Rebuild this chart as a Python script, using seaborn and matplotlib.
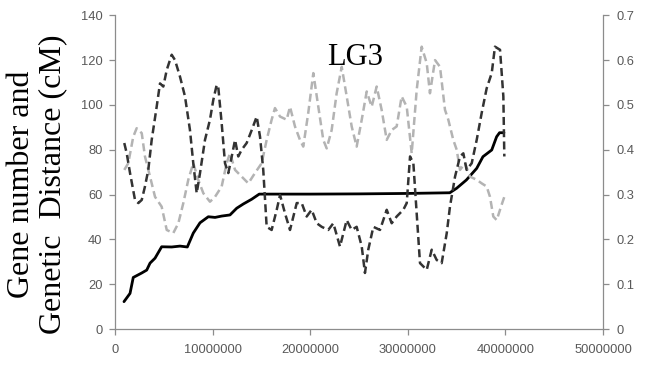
import matplotlib
matplotlib.use("Agg")
import matplotlib.pyplot as plt
import seaborn as sns
import pandas as pd

# ---------------- data ----------------
# cumulative gene number / genetic distance (left axis)
solid_pos_mb = [0.92, 1.54, 1.87, 2.74, 3.25, 3.59, 4.10, 4.78, 5.81, 6.66, 7.41,
                8.02, 8.71, 9.56, 10.25, 10.93, 11.78, 12.47, 13.15, 14.00, 14.78,
                20.0, 25.0, 30.0, 34.3, 35.0, 36.0, 37.06, 37.7, 38.6, 39.1, 39.4, 39.85]
solid_val = [12.2, 15.9, 23.0, 25.0, 26.3, 29.4, 31.6, 36.7, 36.6, 37.0, 36.6,
             42.8, 47.4, 50.1, 49.8, 50.4, 50.9, 53.9, 55.8, 57.9, 60.2,
             60.2, 60.3, 60.5, 60.8, 62.8, 66.5, 71.7, 76.9, 79.9, 85.8, 87.6, 87.6]

# dark dashed series (right axis)
dark_pos_mb = [0.95, 1.20, 1.54, 2.05, 2.39, 2.74, 3.07, 3.41, 3.76, 4.27, 4.61, 4.95,
               5.30, 5.81, 6.15, 6.66, 7.17, 7.68, 8.02, 8.37, 8.71, 9.22, 9.73, 10.07,
               10.42, 10.58, 10.93, 11.27, 11.61, 11.96, 12.30, 12.63, 12.98, 13.49,
               14.01, 14.52, 14.86, 15.19, 15.54, 16.05, 16.57, 16.91, 17.42, 17.93,
               18.62, 19.13, 19.64, 20.15, 20.67, 21.18, 21.85, 22.37, 23.05, 23.74,
               24.25, 24.76, 25.28, 25.61, 25.95, 26.47, 27.15, 27.84, 28.35, 28.86,
               29.54, 29.89, 30.23, 30.57, 30.91, 31.25, 31.94, 32.45, 32.96, 33.47,
               33.99, 34.32, 34.84, 35.35, 35.69, 36.03, 36.55, 37.06, 37.57, 38.08,
               38.60, 38.93, 39.45, 39.79, 39.89]
dark_val = [0.415, 0.392, 0.348, 0.288, 0.281, 0.288, 0.318, 0.355, 0.422, 0.496, 0.548, 0.541,
            0.578, 0.612, 0.600, 0.563, 0.519, 0.444, 0.370, 0.303, 0.348, 0.422, 0.467, 0.511,
            0.545, 0.540, 0.459, 0.370, 0.348, 0.385, 0.422, 0.385, 0.400, 0.415,
            0.444, 0.474, 0.429, 0.355, 0.228, 0.221, 0.266, 0.299, 0.258, 0.221,
            0.281, 0.281, 0.251, 0.266, 0.236, 0.228, 0.221, 0.236, 0.184, 0.243,
            0.221, 0.228, 0.184, 0.125, 0.177, 0.228, 0.221, 0.266, 0.236, 0.251,
            0.266, 0.281, 0.385, 0.370, 0.258, 0.147, 0.132, 0.177, 0.154, 0.147,
            0.214, 0.273, 0.340, 0.385, 0.392, 0.355, 0.370, 0.422, 0.482, 0.537,
            0.571, 0.630, 0.623, 0.519, 0.385]

# light gray dashed series (right axis)
light_pos_mb = [0.95, 1.36, 1.87, 2.22, 2.74, 3.07, 3.59, 4.10, 4.78, 5.30, 5.97, 6.49,
                7.00, 7.51, 8.02, 8.53, 9.05, 9.73, 10.25, 10.93, 11.44, 11.78, 12.30,
                12.98, 13.66, 14.34, 15.03, 15.54, 16.05, 16.39, 16.91, 17.59, 17.93,
                18.44, 18.95, 19.29, 19.80, 20.32, 20.83, 21.34, 21.69, 22.20, 22.71,
                23.23, 23.74, 24.25, 24.76, 25.28, 25.79, 26.30, 26.81, 27.32, 27.84,
                28.35, 28.86, 29.37, 29.89, 30.40, 30.91, 31.42, 31.94, 32.27, 32.79,
                33.30, 33.81, 34.15, 34.66, 35.01, 35.35, 35.86, 36.37, 37.06, 37.57,
                38.08, 38.42, 38.76, 39.11, 39.55, 39.89]
light_val = [0.355, 0.370, 0.429, 0.448, 0.437, 0.385, 0.340, 0.295, 0.273, 0.221, 0.214, 0.236,
             0.281, 0.333, 0.370, 0.333, 0.303, 0.284, 0.295, 0.318, 0.370, 0.392, 0.355,
             0.340, 0.325, 0.348, 0.370, 0.422, 0.467, 0.493, 0.474, 0.467, 0.496,
             0.452, 0.422, 0.407, 0.482, 0.571, 0.496, 0.422, 0.403, 0.444, 0.526,
             0.585, 0.519, 0.452, 0.407, 0.467, 0.530, 0.496, 0.541, 0.489, 0.422,
             0.444, 0.452, 0.519, 0.496, 0.392, 0.533, 0.630, 0.593, 0.526, 0.600,
             0.585, 0.489, 0.467, 0.422, 0.400, 0.355, 0.370, 0.340, 0.333, 0.325,
             0.318, 0.295, 0.251, 0.243, 0.273, 0.295]

x_ticks = [0, 10000000, 20000000, 30000000, 40000000, 50000000]
x_tick_labels = ["0", "10000000", "20000000", "30000000", "40000000", "50000000"]
left_ticks = [0, 20, 40, 60, 80, 100, 120, 140]
left_tick_labels = ["0", "20", "40", "60", "80", "100", "120", "140"]
right_ticks = [0, 0.1, 0.2, 0.3, 0.4, 0.5, 0.6, 0.7]
right_tick_labels = ["0", "0.1", "0.2", "0.3", "0.4", "0.5", "0.6", "0.7"]

title_text = "LG3"
ylabel_text = "Gene number and\nGenetic  Distance (cM)"

# ---------------- frames ----------------
df_solid = pd.DataFrame({"pos": [p * 1e6 for p in solid_pos_mb], "val": solid_val})
df_dark = pd.DataFrame({"pos": [p * 1e6 for p in dark_pos_mb], "val": dark_val})
df_light = pd.DataFrame({"pos": [p * 1e6 for p in light_pos_mb], "val": light_val})

# ---------------- plotting ----------------
sns.set_style("white")
plt.rcParams["font.family"] = ["Liberation Sans", "DejaVu Sans"]

W, H = 646, 372
fig = plt.figure(figsize=(W / 100, H / 100), dpi=100)
ax = fig.add_axes([115 / W, 1 - 329 / H, (603 - 115) / W, (329 - 15.3) / H])
ax2 = ax.twinx()

sns.lineplot(data=df_solid, x="pos", y="val", ax=ax, color="black", linewidth=2.0,
             sort=False, errorbar=None)
sns.lineplot(data=df_light, x="pos", y="val", ax=ax2, color="#b3b3b3", linewidth=1.8,
             sort=False, errorbar=None)
sns.lineplot(data=df_dark, x="pos", y="val", ax=ax2, color="#333333", linewidth=1.8,
             sort=False, errorbar=None)
for ln in ax2.lines:
    ln.set_dashes((3.2, 1.7))

ax.set_xlim(0, 50000000)
ax.set_ylim(0, 140)
ax2.set_ylim(0, 0.7)

ax.set_xticks(x_ticks)
ax.set_xticklabels(x_tick_labels)
ax.set_yticks(left_ticks)
ax.set_yticklabels(left_tick_labels)
ax2.set_yticks(right_ticks)
ax2.set_yticklabels(right_tick_labels)

ax.set_xlabel("")
ax.set_ylabel("")
ax2.set_ylabel("")

spine_col = "#8c8c8c"
for a in (ax, ax2):
    a.spines["top"].set_visible(False)
    for side in ("left", "right", "bottom"):
        a.spines[side].set_color(spine_col)
        a.spines[side].set_linewidth(0.9)
    a.set_facecolor("none")
ax.spines["right"].set_visible(False)
ax2.spines["left"].set_visible(False)
ax2.spines["bottom"].set_visible(False)

tick_col = "#595959"
ax.tick_params(axis="both", which="major", direction="out", length=4, width=0.9,
               color=spine_col, labelcolor=tick_col, labelsize=9.3, pad=5)
ax.tick_params(axis="y", left=True, right=False)
ax.tick_params(axis="x", bottom=True, pad=7)
ax2.tick_params(axis="y", direction="out", length=4, width=0.9, color=spine_col,
                labelcolor=tick_col, labelsize=9.3, pad=6, right=True)
ax.grid(False)
ax2.grid(False)

fig.text(355 / W, 1 - 65 / H, title_text, family=["Liberation Serif", "DejaVu Serif"],
         fontsize=22, ha="center", va="baseline", color="black")
fig.text(37 / W, 1 - 184 / H, ylabel_text, family=["Liberation Serif", "DejaVu Serif"],
         fontsize=23, rotation=90, ha="center", va="center", multialignment="center",
         linespacing=1.1, color="black")

fig.savefig("out.png", dpi=100)
